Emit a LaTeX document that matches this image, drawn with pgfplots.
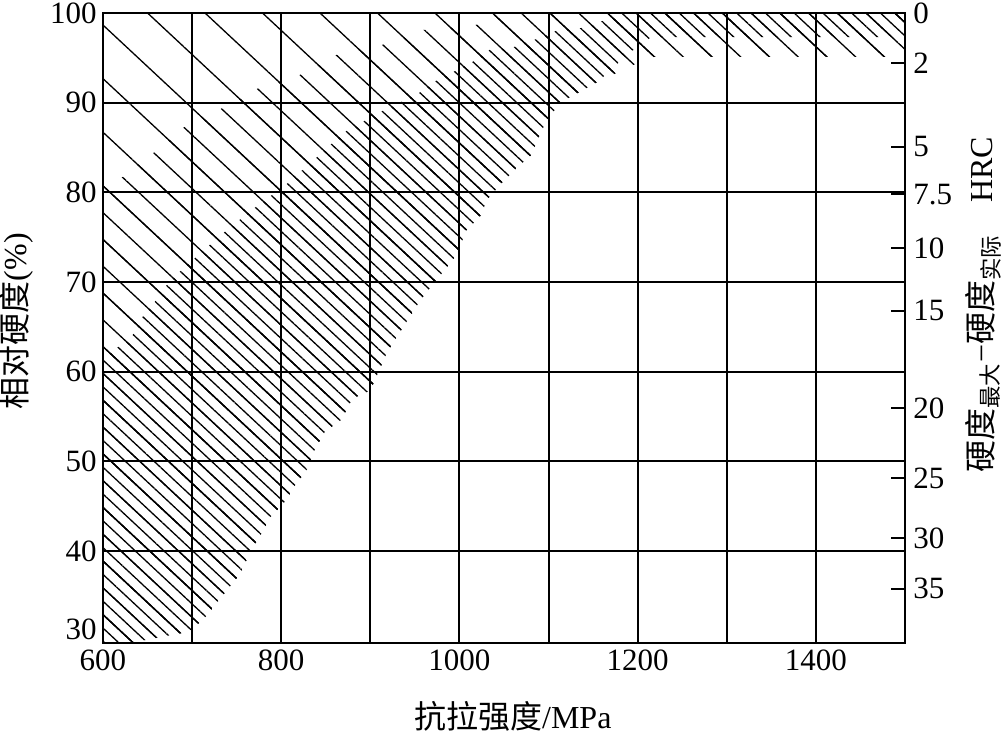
\documentclass[border=0pt]{standalone}
\usepackage{fontspec}
\setmainfont{Liberation Serif}
\newfontfamily\cjk{Noto Sans CJK SC}
\usepackage{pgfplots}
\pgfplotsset{compat=1.18}
\usetikzlibrary{patterns.meta}

\begin{document}
\begin{tikzpicture}
\path[use as bounding box] (-51.5pt,-45pt) rectangle (450.5pt,321.5pt);
\pgfplotsset{
  hatchA/.style={draw=none, pattern={Lines[angle=-43,distance=19.6pt,line width=0.65pt]}},
  hatchB/.style={draw=none, pattern={Lines[angle=-43,distance=9.8pt,line width=0.65pt]}},
  hatchC/.style={draw=none, pattern={Lines[angle=-43,distance=4.9pt,line width=0.65pt]}},
}
\begin{axis}[
  at={(0,0)}, anchor=south west,
  scale only axis, width=401pt, height=315pt,
  xmin=600, xmax=1500, ymin=29.74, ymax=100,
  xtick={600,700,...,1500},
  xticklabels={600,,800,,1000,,1200,,1400,},
  ytick={40,50,...,100},
  yticklabels={40,50,60,70,80,90,100},
  extra y ticks={31.3},
  extra y tick labels={30},
  extra y tick style={grid=none, major tick length=0pt},
  grid=major,
  major grid style={black, line width=1pt},
  major tick length=0pt,
  axis line style={line width=1.3pt},
  tick label style={font=\fontsize{15.5}{18}\selectfont},
  xticklabel style={inner ysep=3pt},
  yticklabel style={inner xsep=3pt},
  /pgf/number format/assume math mode=true,
  xlabel={{\cjk 抗拉强度}/MPa},
  ylabel={{\cjk 相对硬度}(\%)},
  label style={font=\fontsize{16}{19}\selectfont},
  xlabel style={at={(axis description cs:0.511,0)}, anchor=center, yshift=-36.5pt},
  ylabel style={at={(axis description cs:0,0.511)}, anchor=center, yshift=43.5pt},
  axis on top,
]
% R0: whole hatched region (sparse lines)
\addplot[hatchA] coordinates {
(600,100) (600,29.5) (618,29.5) (696,31.0) (713,32.4) (755,37.6) (765,39.9) (777,41.8) (788,43.8) (805,45.6) (816,47.4) (829,49.1) (838,51.4) (849,53.3) (867,54.6) (880,57.0) (900,57.9) (919,62.2) (957,68.1) (1000,73.4) (1006,75.6) (1023,77.3) (1032,79.3) (1047,81.0) (1063,82.6) (1081,84.2) (1090,86.4) (1100,88.4) (1115,90.1) (1155,92.3) (1195,94.2) (1218,95.1) (1500,95.1) (1500,100)
};
% R1: medium density band
\addplot[hatchB] coordinates {
(600,29.5) (618,29.5) (696,31.0) (713,32.4) (755,37.6) (765,39.9) (777,41.8) (788,43.8) (805,45.6) (816,47.4) (829,49.1) (838,51.4) (849,53.3) (867,54.6) (880,57.0) (900,57.9) (919,62.2) (957,68.1) (1000,73.4) (1006,75.6) (1023,77.3) (1032,79.3) (1047,81.0) (1063,82.6) (1081,84.2) (1090,86.4) (1100,88.4) (1115,90.1) (1155,92.3) (1195,94.2) (1218,95.1) (1500,95.1) (1500,100)
(1043,100) (1020,98.7) (959,98.1) (912,96.4) (861,95.3) (821,93.1) (774,91.6) (734,89.4) (690,87.2) (655.5,84.3) (622,81.7) (600,81.15)
};
% R2: dense band next to the boundary
\addplot[hatchC] coordinates {
(600,29.5) (618,29.5) (696,31.0) (713,32.4) (755,37.6) (765,39.9) (777,41.8) (788,43.8) (805,45.6) (816,47.4) (829,49.1) (838,51.4) (849,53.3) (867,54.6) (880,57.0) (900,57.9) (919,62.2) (957,68.1) (1000,73.4) (1006,75.6) (1023,77.3) (1032,79.3) (1047,81.0) (1063,82.6) (1081,84.2) (1090,86.4) (1100,88.4) (1115,90.1) (1155,92.3)
(1190,95.5) (1215,97.3) (1500,97.3) (1500,100) (1186,100) (1160.5,99.1) (1135.6,98.3) (1110.7,98.1) (1086.5,97.1) (1060.8,96.2) (1034,95.9) (1014,94.5) (973,92.4) (953.6,91.0) (912,89.0) (870.7,86.7) (837.7,83.7) (804.7,80.8) (767.8,78.1) (731.8,75.2) (682.2,70.8) (668.3,69.3) (655.5,67.4) (641.6,65.8) (631,63.6) (612.8,62.5) (600,61.3)
};
\end{axis}
\begin{axis}[
  at={(0,0)}, anchor=south west,
  scale only axis, width=401pt, height=315pt,
  xmin=600, xmax=1500, ymin=29.74, ymax=100,
  axis x line=none, axis y line*=right,
  ytick={35.8,41.4,48.1,55.9,66.8,73.8,79.8,85.1,94.4,100},
  yticklabels={35,30,25,20,15,10,7.5,5,2,0},
  tick align=inside, major tick length=7pt,
  ytick style={line width=1pt, black},
  axis line style={line width=1.3pt},
  yticklabel style={font=\fontsize{15.5}{18}\selectfont, inner xsep=4pt},
  ylabel={{\cjk 硬度}\textsubscript{\cjk 最大}−{\cjk 硬度}\textsubscript{\cjk 实际}\quad HRC},
  ylabel style={font=\fontsize{16}{19}\selectfont, at={(axis description cs:1,0.537)}, anchor=center, yshift=-39pt},
]
\end{axis}
\end{tikzpicture}
\end{document}
